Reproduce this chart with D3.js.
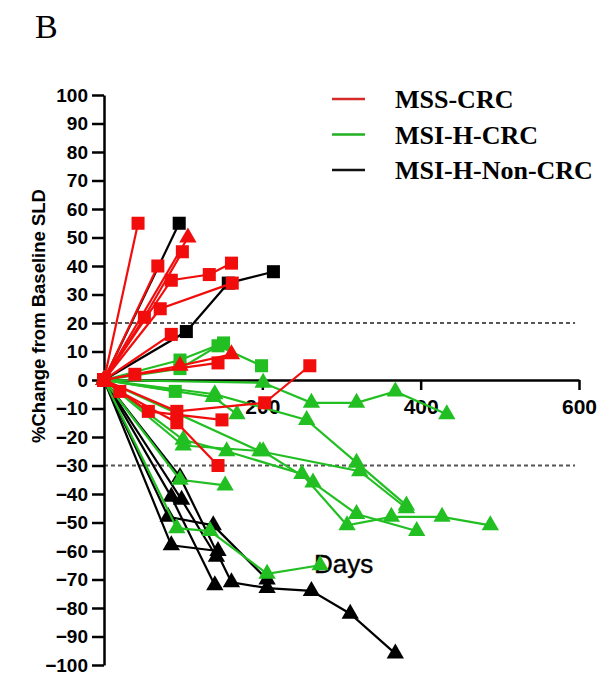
<!DOCTYPE html>
<html>
<head>
<meta charset="utf-8">
<script src="https://cdn.jsdelivr.net/npm/d3@7"></script>
<style>
  body { margin: 0; background: #fff; }
</style>
</head>
<body>
<div class="canvas"></div>
<script>
/* ----------- DATA ----------- */
// each patient: list of [day, % change from baseline SLD]
const mssSquares = [
    [[0, 0], [43, 55]],
    [[0, 0], [68, 40]],
    [[0, 0], [51, 22], [99, 45]],
    [[0, 0], [85, 35], [133, 37], [161, 41]],
    [[0, 0], [71, 25], [162, 34]],
    [[0, 0], [85, 16]],
    [[0, 0], [39, 2], [144, 6]],
    [[0, 0], [56, -11], [149, -14]],
    [[0, 0], [92, -11], [203, -8], [260, 5]],
    [[0, 0], [20, -4], [92, -15], [144, -30]]
];
const mssTriangles = [
    [[0, 0], [106, 50]],
    [[0, 0], [96, 5], [161, 9]]
];
const msiCrcSquares = [
    [[0, 0], [96, 7], [151, 13]],
    [[0, 0], [96, 4], [144, 12], [199, 5]],
    [[0, 0], [90, -4]]
];
const msiCrcTriangles = [
    [[0, 0], [201, -1], [262, -8], [319, -8], [368, -4], [433, -12]],
    [[0, 0], [138, -6], [168, -12]],
    [[0, 0], [140, -5], [256, -14], [319, -29], [382, -44]],
    [[0, 0], [100, -21], [155, -25], [250, -33], [307, -51], [363, -48], [427, -48], [488, -51]],
    [[0, 0], [100, -23], [201, -25], [264, -36], [319, -47], [395, -53]],
    [[0, 0], [197, -25], [323, -32], [382, -45]],
    [[0, 0], [96, -35], [153, -37]],
    [[0, 0], [92, -52], [134, -53], [206, -68], [273, -65]]
];
const nonCrcSquares = [
    [[0, 0], [95, 55]],
    [[0, 0], [104, 17], [157, 34], [214, 38]]
];
const nonCrcTriangles = [
    [[0, 0], [96, -34], [161, -71], [206, -73], [262, -74], [311, -82], [368, -96]],
    [[0, 0], [81, -48], [138, -51], [206, -70]],
    [[0, 0], [85, -58], [144, -60]],
    [[0, 0], [85, -41], [140, -72]],
    [[0, 0], [98, -42], [142, -62]]
];
const groupNames = ['MSS-CRC', 'MSI-H-CRC', 'MSI-H-Non-CRC'];
const yTickValues = [100, 90, 80, 70, 60, 50, 40, 30, 20, 10, 0, -10, -20, -30, -40, -50, -60, -70, -80, -90, -100];
const xTickValues = [200, 400, 600];
const refLines = [20, -30];

/* ----------- CONTAINER ----------- */
const svg = d3.select('.canvas')
    .append('svg')
    .attr('width', 605)
    .attr('height', 676);

const red = '#f20d0d', green = '#22bf22', black = '#000';

/* ----------- SCALES & AXES ----------- */
const x = d3.scaleLinear().domain([0, 600]).range([104, 579]);
const y = d3.scaleLinear().domain([-100, 100]).range([665, 95]);

// dashed reference lines
svg.selectAll('.ref')
    .data(refLines)
    .enter().append('line')
    .attr('x1', x(0)).attr('x2', x(595))
    .attr('y1', d => y(d)).attr('y2', d => y(d))
    .attr('stroke', '#555')
    .attr('stroke-width', 2)
    .attr('stroke-dasharray', '4,3');

const yAxisGroup = svg.append('g')
    .attr('transform', `translate(${x(0)},0)`)
    .call(d3.axisLeft(y).tickValues(yTickValues).tickSize(12).tickSizeOuter(0).tickPadding(4));

const xAxisGroup = svg.append('g')
    .attr('transform', `translate(0,${y(0)})`)
    .call(d3.axisBottom(x).tickValues(xTickValues).tickSize(10).tickSizeOuter(0).tickPadding(9));

[yAxisGroup, xAxisGroup].forEach(g => {
    g.select('.domain').attr('stroke', '#000').attr('stroke-width', 2.5);
    g.selectAll('.tick line').attr('stroke', '#000').attr('stroke-width', 2.5);
    g.selectAll('text')
        .attr('fill', '#000')
        .attr('font-family', 'Liberation Sans, Arial, sans-serif')
        .attr('font-weight', 'bold');
});
yAxisGroup.selectAll('text').attr('font-size', 19);
xAxisGroup.selectAll('text').attr('font-size', 21);

// axis titles
svg.append('text')
    .attr('transform', 'translate(45,316) rotate(-90)')
    .attr('text-anchor', 'middle')
    .attr('font-family', 'Liberation Sans, Arial, sans-serif')
    .attr('font-weight', 'bold')
    .attr('font-size', 18.5)
    .text('%Change from Baseline SLD');

svg.append('text')
    .attr('x', 314).attr('y', 573)
    .attr('font-family', 'Liberation Sans, Arial, sans-serif')
    .attr('font-size', 26)
    .attr('stroke', '#000')
    .attr('stroke-width', 0.4)
    .text('Days');

svg.append('text')
    .attr('x', 35).attr('y', 38)
    .attr('font-family', 'Liberation Serif, Times New Roman, serif')
    .attr('font-size', 34)
    .text('B');

/* ----------- PATIENT LINES ----------- */
const line = d3.line().x(d => x(d[0])).y(d => y(d[1]));
const square = d3.symbol().type(d3.symbolSquare).size(170);
const triangle = d3.symbol().type(d3.symbolTriangle).size(130);

const drawPatients = (patients, colour, symbol) => {
    patients.forEach(pts => {
        const g = svg.append('g');
        g.append('path')
            .attr('d', line(pts))
            .attr('fill', 'none')
            .attr('stroke', colour)
            .attr('stroke-width', 2.2);
        g.selectAll('path.mark')
            .data(pts)
            .enter().append('path')
            .attr('class', 'mark')
            .attr('d', symbol)
            .attr('transform', d => `translate(${x(d[0])},${y(d[1])})`)
            .attr('fill', colour);
    });
};

drawPatients(nonCrcTriangles, black, triangle);
drawPatients(msiCrcTriangles, green, triangle);
drawPatients(msiCrcSquares, green, square);
drawPatients(nonCrcSquares, black, square);
drawPatients(mssTriangles, red, triangle);
drawPatients(mssSquares, red, square);

/* ----------- LEGEND ----------- */
const legendColours = ['#d42a2a', '#22b022', '#111'];
const legend = svg.selectAll('.legend')
    .data(groupNames)
    .enter().append('g')
    .attr('transform', (d, i) => `translate(332,${99 + i * 35.5})`);

legend.append('line')
    .attr('x1', 0).attr('x2', 33)
    .attr('stroke', (d, i) => legendColours[i])
    .attr('stroke-width', 2.5);

legend.append('text')
    .attr('x', 63).attr('y', 9)
    .attr('font-family', 'Liberation Serif, Times New Roman, serif')
    .attr('font-weight', 'bold')
    .attr('font-size', 26)
    .text(d => d);
</script>
</body>
</html>
